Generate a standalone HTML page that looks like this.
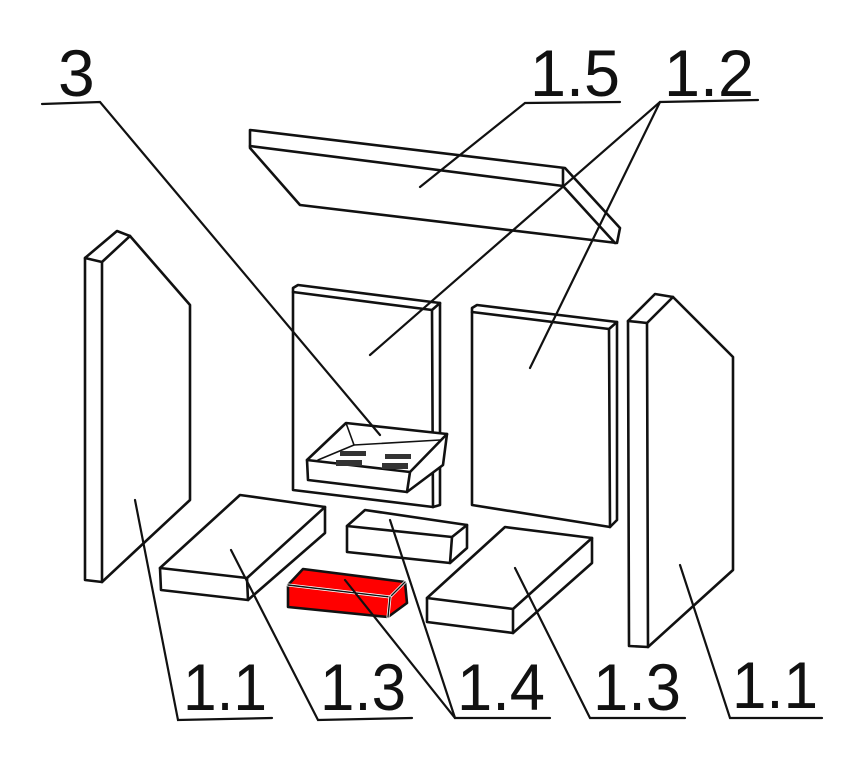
<!DOCTYPE html>
<html><head><meta charset="utf-8"><style>
html,body{margin:0;padding:0;background:#fff;}
svg{display:block;}
text{font-family:"Liberation Sans",sans-serif;font-size:66px;fill:#111;}
</style></head><body>
<svg width="866" height="769" viewBox="0 0 866 769" xmlns="http://www.w3.org/2000/svg">
<g fill="none" stroke="#111" stroke-width="2.6" stroke-linejoin="round" stroke-linecap="round">
<!-- top slab 1.5 -->
<polygon points="250,130 565,168 620,228 617,243 300,205 250,148" fill="#fff"/>
<polyline points="250,146 563,186 563,168"/>
<line x1="563" y1="186" x2="615" y2="243"/>
<!-- left side panel -->
<polygon points="85,258 117,231 130,236 190,305 190,500 102,582 85,580" fill="#fff"/>
<polyline points="85,258 102,262 130,236"/>
<line x1="102" y1="262" x2="102" y2="582"/>
<!-- right side panel -->
<polygon points="628,321 655,294 673,297 733,357 733,570 648,647 629,646" fill="#fff"/>
<polyline points="628,321 647,323 673,297"/>
<line x1="647" y1="323" x2="648" y2="647"/>
<!-- back left panel -->
<polygon points="293,288 298,285 440,303 440,505 433,507 293,490" fill="#fff"/>
<polyline points="293,292 432,310 440,303"/>
<line x1="432" y1="310" x2="433" y2="507"/>
<!-- back right panel -->
<polygon points="472,308 477,305 617,322 617,520 610,527 472,505" fill="#fff"/>
<polyline points="472,312 609,329 617,322"/>
<line x1="609" y1="329" x2="610" y2="527"/>
<!-- tray 3 -->
<polygon points="346,423 447,434 443,465 407,492 308,480 307,460" fill="#fff"/>
<polyline points="307,460 410,472 447,434"/>
<line x1="410" y1="472" x2="407" y2="492"/>
<polyline points="346,423 354,445 440,440" stroke-width="1.6"/>
<polyline points="354,445 318,460" stroke-width="1.6"/>
</g>
<g fill="#333">
<rect x="340" y="451" width="26" height="5"/><rect x="336" y="460" width="26" height="6"/>
<rect x="385" y="454" width="26" height="5"/><rect x="382" y="463" width="26" height="6"/>
</g>
<g fill="none" stroke="#111" stroke-width="2.6" stroke-linejoin="round" stroke-linecap="round">
<!-- left brick 1.3 -->
<polygon points="240,495 325,507 325,533 248,600 161,590 160,568" fill="#fff"/>
<polyline points="160,568 247,578 325,507"/>
<line x1="247" y1="578" x2="248" y2="600"/>
<!-- brick 1.4 back -->
<polygon points="365,510 467,525 467,548 450,563 347,552 347,526" fill="#fff"/>
<polyline points="347,526 452,537 467,525"/>
<line x1="452" y1="537" x2="450" y2="563"/>
<!-- red brick -->
<polygon points="303,569 405,582 407,603 388,617 288,607 288,585" fill="#f00"/>
<polyline points="288,585 390,597 405,582" stroke="#fff" stroke-width="3"/>
<polyline points="288,585 390,597 405,582" stroke-width="1.4"/>
<line x1="390" y1="597" x2="388" y2="617" stroke="#fff" stroke-width="3"/>
<line x1="390" y1="597" x2="388" y2="617" stroke-width="1.4"/>
<!-- right brick 1.3 -->
<polygon points="505,527 592,538 592,563 513,633 427,622 427,598" fill="#fff"/>
<polyline points="427,598 513,609 592,538"/>
<line x1="513" y1="609" x2="513" y2="633"/>
</g>
<!-- leaders and underlines -->
<g fill="none" stroke="#111" stroke-width="2.2" stroke-linecap="round">
<polyline points="42,104 100,102 380,435"/>
<polyline points="620,102 525,103 420,187"/>
<polyline points="758,100 660,102 370,355"/>
<line x1="660" y1="102" x2="530" y2="368"/>
<polyline points="135,500 178,720 272,718"/>
<polyline points="231,550 318,720 412,718"/>
<polyline points="345,580 455,718 550,718"/>
<line x1="390" y1="520" x2="455" y2="718"/>
<polyline points="515,568 590,718 685,718"/>
<polyline points="680,565 730,718 822,718"/>
</g>
<g>
<text x="58" y="96">3</text>
<text x="530" y="96" textLength="90" lengthAdjust="spacingAndGlyphs">1.5</text>
<text x="664" y="96" textLength="90" lengthAdjust="spacingAndGlyphs">1.2</text>
<text x="183" y="710" textLength="84" lengthAdjust="spacingAndGlyphs">1.1</text>
<text x="320" y="710" textLength="86" lengthAdjust="spacingAndGlyphs">1.3</text>
<text x="457" y="710" textLength="88" lengthAdjust="spacingAndGlyphs">1.4</text>
<text x="593" y="710" textLength="88" lengthAdjust="spacingAndGlyphs">1.3</text>
<text x="732" y="708" textLength="86" lengthAdjust="spacingAndGlyphs">1.1</text>
</g>
</svg>
</body></html>
